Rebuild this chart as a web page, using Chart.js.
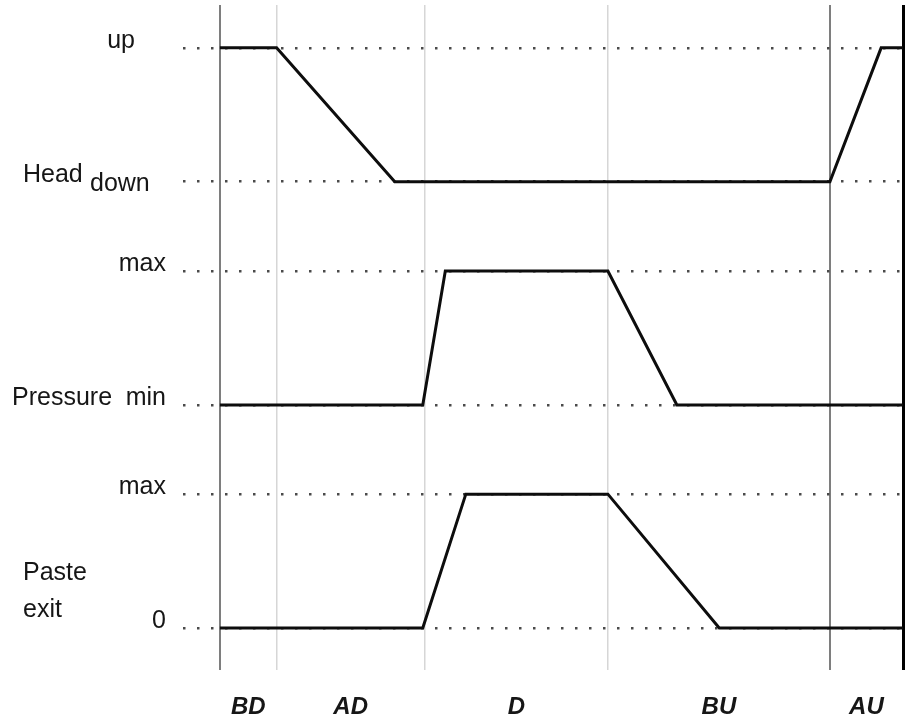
<!DOCTYPE html>
<html><head><meta charset="utf-8">
<script src="https://cdn.jsdelivr.net/npm/chart.js@4"></script>
<style>html,body{margin:0;padding:0;background:#fff;overflow:hidden}</style>
</head><body>
<canvas id="c" width="907" height="722"></canvas>
<script>
// ---- data ----
const phaseBounds = [0, 8.3, 30.0, 56.8, 89.3, 100];
const phaseLabels = ['BD', 'AD', 'D', 'BU', 'AU'];
const levelValues = [0, 1.5, 2.5, 4, 5, 6.5];
const levelLabels = ['0', 'max', 'min', 'max', 'down', 'up'];
const signalNames = ['Head', 'Pressure', 'Paste exit'];
const headTimes = [0, 8.3, 25.6, 89.3, 96.8, 100];
const headValues = [6.5, 6.5, 5, 5, 6.5, 6.5];
const pressureTimes = [0, 29.7, 33.0, 56.8, 66.9, 100];
const pressureValues = [2.5, 2.5, 4, 4, 2.5, 2.5];
const pasteTimes = [0, 29.7, 36.0, 56.8, 73.1, 100];
const pasteValues = [0, 0, 1.5, 1.5, 0, 0];

// ---- styles ----
const boundColors = ['#7e7e7e', '#d6d6d6', '#d6d6d6', '#d6d6d6', '#7e7e7e', '#000000'];
const boundWidths = [2, 1.5, 1.5, 1.5, 2, 3];
const FONT = '"Liberation Sans", Arial, Helvetica, sans-serif';

const toPts = (xs, ys) => xs.map((v, i) => ({x: v, y: ys[i]}));

const textPlugin = {
  id: 'textLabels',
  afterDraw(chart) {
    const {ctx} = chart;
    const xs = chart.scales.x, ys = chart.scales.y;
    ctx.save();
    ctx.fillStyle = '#161616';
    ctx.textBaseline = 'alphabetic';
    ctx.font = '25px ' + FONT;
    levelLabels.forEach((lab, i) => {
      const py = ys.getPixelForValue(levelValues[i]);
      if (lab === 'up') { ctx.textAlign = 'right'; ctx.fillText(lab, 135, py); }
      else if (lab === 'down') { ctx.textAlign = 'left'; ctx.fillText(lab, 90, py + 9); }
      else { ctx.textAlign = 'right'; ctx.fillText(lab, 166, py); }
    });
    ctx.textAlign = 'left';
    ctx.fillText(signalNames[0], 23, ys.getPixelForValue(levelValues[4]));
    ctx.fillText(signalNames[1], 12, ys.getPixelForValue(levelValues[2]));
    const pasteParts = signalNames[2].split(' ');
    const p0 = ys.getPixelForValue(levelValues[0]);
    ctx.fillText(pasteParts[0], 23, p0 - 48);
    ctx.fillText(pasteParts[1], 23, p0 - 11);
    ctx.font = 'italic bold 24px ' + FONT;
    ctx.textAlign = 'center';
    phaseLabels.forEach((lab, i) => {
      const mid = (phaseBounds[i] + phaseBounds[i + 1]) / 2;
      ctx.fillText(lab, xs.getPixelForValue(mid), 714);
    });
    ctx.restore();
  }
};

const lineStyle = {borderColor: '#0d0d0d', borderWidth: 3, pointRadius: 0, tension: 0, fill: false};

new Chart(document.getElementById('c'), {
  type: 'line',
  data: {
    datasets: [
      Object.assign({label: signalNames[0], data: toPts(headTimes, headValues)}, lineStyle),
      Object.assign({label: signalNames[1], data: toPts(pressureTimes, pressureValues)}, lineStyle),
      Object.assign({label: signalNames[2], data: toPts(pasteTimes, pasteValues)}, lineStyle)
    ]
  },
  options: {
    responsive: false,
    animation: false,
    devicePixelRatio: 1,
    layout: {padding: {left: 183, right: 4, top: 5, bottom: 52}},
    plugins: {legend: {display: false}, tooltip: {enabled: false}},
    scales: {
      x: {
        type: 'linear', min: -5.4, max: 100,
        afterBuildTicks: (s) => { s.ticks = phaseBounds.map(v => ({value: v})); },
        ticks: {display: false},
        grid: {
          drawTicks: false,
          color: (c) => boundColors[c.index] || 'transparent',
          lineWidth: (c) => boundWidths[c.index] || 0
        },
        border: {display: false}
      },
      y: {
        type: 'linear', min: -0.47, max: 6.98,
        afterBuildTicks: (s) => { s.ticks = levelValues.map(v => ({value: v})); },
        ticks: {display: false},
        grid: {drawTicks: false, color: '#4a4a4a', lineWidth: 2.5},
        border: {display: false, dash: [2.5, 11.5]}
      }
    }
  },
  plugins: [textPlugin]
});
</script>
</body></html>
